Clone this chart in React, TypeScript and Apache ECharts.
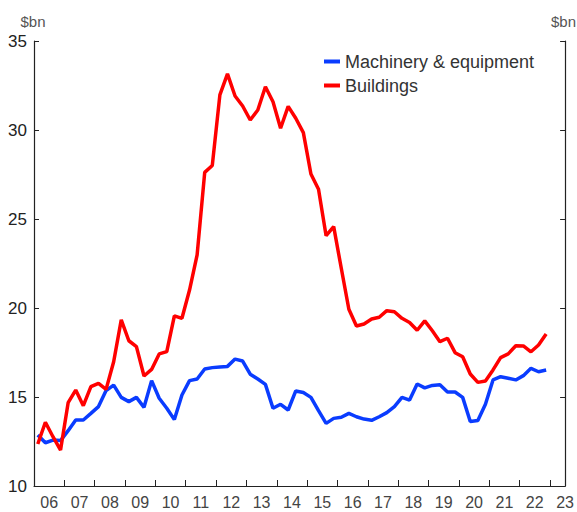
import React, { useEffect, useRef } from "react";
import * as echarts from "echarts";

const quarters: string[] = [
  "2006Q1","2006Q2","2006Q3","2006Q4","2007Q1","2007Q2","2007Q3","2007Q4",
  "2008Q1","2008Q2","2008Q3","2008Q4","2009Q1","2009Q2","2009Q3","2009Q4",
  "2010Q1","2010Q2","2010Q3","2010Q4","2011Q1","2011Q2","2011Q3","2011Q4",
  "2012Q1","2012Q2","2012Q3","2012Q4","2013Q1","2013Q2","2013Q3","2013Q4",
  "2014Q1","2014Q2","2014Q3","2014Q4","2015Q1","2015Q2","2015Q3","2015Q4",
  "2016Q1","2016Q2","2016Q3","2016Q4","2017Q1","2017Q2","2017Q3","2017Q4",
  "2018Q1","2018Q2","2018Q3","2018Q4","2019Q1","2019Q2","2019Q3","2019Q4",
  "2020Q1","2020Q2","2020Q3","2020Q4","2021Q1","2021Q2","2021Q3","2021Q4",
  "2022Q1","2022Q2","2022Q3","2022Q4",
];

const machinery: number[] = [
  12.87, 12.43, 12.58, 12.55, 13.11, 13.71, 13.71, 14.08,
  14.46, 15.36, 15.67, 14.98, 14.74, 14.98, 14.42, 15.92,
  14.93, 14.37, 13.73, 15.11, 15.92, 16.01, 16.57, 16.65,
  16.69, 16.72, 17.13, 17.02, 16.28, 16.01, 15.71, 14.37,
  14.59, 14.27, 15.34, 15.25, 14.98, 14.23, 13.52, 13.80,
  13.86, 14.08, 13.89, 13.76, 13.69, 13.89, 14.12, 14.46,
  14.98, 14.83, 15.73, 15.51, 15.65, 15.69, 15.28, 15.28,
  14.98, 13.62, 13.68, 14.59, 15.96, 16.14, 16.05, 15.96,
  16.20, 16.61, 16.42, 16.52,
];

const buildings: number[] = [
  12.36, 13.58, 12.77, 12.02, 14.68, 15.39, 14.51, 15.58,
  15.77, 15.43, 16.98, 19.33, 18.16, 17.83, 16.18, 16.55,
  17.42, 17.55, 19.56, 19.42, 21.01, 22.98, 27.62, 28.01,
  31.97, 33.15, 31.91, 31.35, 30.56, 31.12, 32.43, 31.59,
  30.10, 31.33, 30.66, 29.85, 27.53, 26.67, 24.06, 24.57,
  22.23, 19.93, 18.99, 19.10, 19.38, 19.48, 19.85, 19.79,
  19.42, 19.19, 18.75, 19.28, 18.72, 18.11, 18.30, 17.49,
  17.26, 16.29, 15.82, 15.90, 16.52, 17.21, 17.42, 17.88,
  17.87, 17.54, 17.92, 18.54,
];

const yTicks: number[] = [10, 15, 20, 25, 30, 35];
const xRange: number[] = [2006, 2023.5];
const unitLabel = "$bn";

// position each quarter at its mid-point on a decimal-year axis
const qToX = (q: string) => {
  const yr = parseInt(q.slice(0, 4), 10);
  const qq = parseInt(q.slice(5), 10);
  return yr + (qq - 0.5) / 4;
};

const FONT = "'Liberation Sans', Arial, sans-serif";

export default function App() {
  const ref = useRef<HTMLDivElement>(null);
  useEffect(() => {
    if (!ref.current) return;
    const chart = echarts.init(ref.current, undefined, { renderer: "svg" });
    const axisLine = { show: true, lineStyle: { color: "#222", width: 1.2 } };
    const unitStyle = {
      text: unitLabel,
      fontSize: 15,
      fill: "#555",
      fontFamily: FONT,
      textVerticalAlign: "middle",
    };
    const option: any = {
      animation: false,
      backgroundColor: "#fff",
      textStyle: { fontFamily: FONT },
      grid: { left: 34, right: 6, top: 41, bottom: 26, containLabel: false },
      graphic: [
        { type: "text", x: 33, y: 21, style: { ...unitStyle, textAlign: "center" } },
        { type: "text", x: 576, y: 21, style: { ...unitStyle, textAlign: "right" } },
      ],
      legend: {
        show: true,
        orient: "vertical",
        left: 319,
        top: 47,
        itemWidth: 16,
        itemHeight: 4,
        itemGap: 5,
        icon: "rect",
        textStyle: { fontSize: 18, color: "#333", fontFamily: FONT, lineHeight: 19 },
        data: ["Machinery & equipment", "Buildings"],
      },
      xAxis: [
        {
          type: "value",
          min: xRange[0],
          max: xRange[1],
          interval: 1,
          axisLine: axisLine,
          axisTick: { show: true, inside: true, length: 6, lineStyle: { color: "#222" } },
          axisLabel: { show: false },
          splitLine: { show: false },
        },
        {
          type: "value",
          position: "bottom",
          min: xRange[0],
          max: xRange[1],
          interval: 0.5,
          axisLine: { show: false },
          axisTick: { show: false },
          splitLine: { show: false },
          axisLabel: {
            show: true,
            margin: 8,
            fontSize: 16,
            color: "#444",
            fontFamily: FONT,
            showMaxLabel: true,
            formatter: (v: number) => {
              const frac = Math.round((v - Math.floor(v)) * 10);
              if (frac !== 5) return "";
              const yy = Math.floor(v) % 100;
              return yy < 10 ? "0" + yy : String(yy);
            },
          },
        },
      ],
      yAxis: [
        {
          type: "value",
          min: yTicks[0],
          max: yTicks[yTicks.length - 1],
          interval: 5,
          axisLine: axisLine,
          axisTick: { show: true, inside: true, length: 5, lineStyle: { color: "#222" } },
          axisLabel: { show: true, margin: 7, fontSize: 17, color: "#222", fontFamily: FONT },
          splitLine: { show: false },
        },
        {
          type: "value",
          position: "right",
          min: yTicks[0],
          max: yTicks[yTicks.length - 1],
          interval: 5,
          axisLine: axisLine,
          axisTick: { show: true, inside: true, length: 5, lineStyle: { color: "#222" } },
          axisLabel: { show: false },
          splitLine: { show: false },
        },
      ],
      series: [
        {
          name: "Machinery & equipment",
          type: "line",
          xAxisIndex: 0,
          yAxisIndex: 0,
          data: quarters.map((q, i) => [qToX(q), machinery[i]]),
          showSymbol: false,
          symbol: "none",
          lineStyle: { color: "#0A3CFF", width: 3.5 },
          itemStyle: { color: "#0A3CFF" },
        },
        {
          name: "Buildings",
          type: "line",
          xAxisIndex: 0,
          yAxisIndex: 0,
          data: quarters.map((q, i) => [qToX(q), buildings[i]]),
          showSymbol: false,
          symbol: "none",
          lineStyle: { color: "#FF0000", width: 3.5 },
          itemStyle: { color: "#FF0000" },
        },
      ],
    };
    chart.setOption(option);
    return () => chart.dispose();
  }, []);
  return (
    <div
      ref={ref}
      style={{ position: "absolute", left: 0, top: 0, width: 577, height: 512 }}
    />
  );
}
